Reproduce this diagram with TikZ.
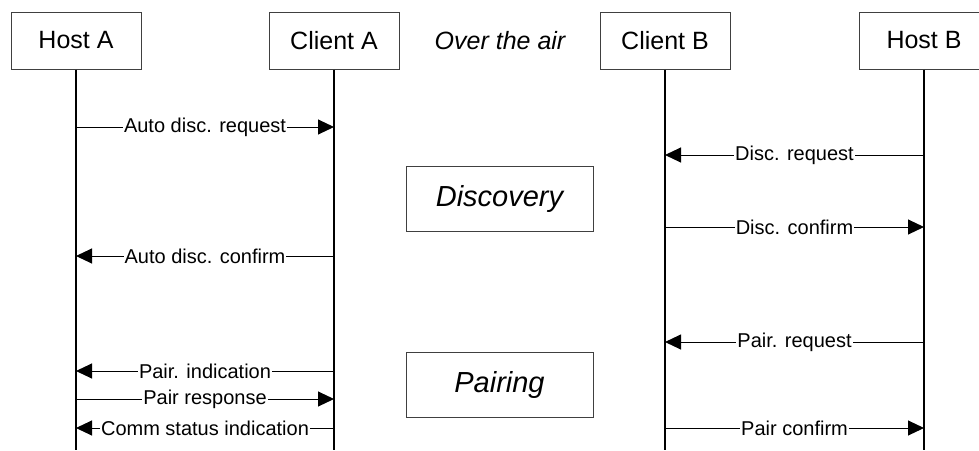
\documentclass[tikz,border=0pt]{standalone}
\usepackage{fontspec}
\setmainfont{Liberation Sans}
\usetikzlibrary{arrows.meta,positioning}

\begin{document}
\begin{tikzpicture}[x=1pt, y=-1pt,
    actor/.style={rectangle, draw=black!75, line width=1pt, minimum width=130pt, minimum height=57pt, font=\fontsize{25}{30}\selectfont},
    phase/.style={rectangle, draw=black!75, line width=1pt, minimum width=187pt, minimum height=65pt, font=\fontsize{29}{34}\selectfont\itshape},
    life/.style={line width=1.6pt},
    msg/.style={-{Triangle[length=16pt,width=15pt]}, line width=1pt},
    lbl/.style={fill=white, inner sep=1pt, font=\fontsize{20}{24}\selectfont}
]
    \clip (0,0) rectangle (979,450);

    % actors
    \node[actor] (hostA) at (76,40.5) {Host A};
    \node[actor] (clientA) at (334,40.5) {Client A};
    \node[actor] (clientB) at (665,40.5) {Client B};
    \node[actor] (hostB) at (924,40.5) {Host B};
    \node[font=\fontsize{25}{30}\selectfont\itshape] (air) at (500,41) {Over the air};

    % lifelines
    \coordinate (hostAend) at (76,450);
    \coordinate (clientAend) at (334,450);
    \coordinate (clientBend) at (665,450);
    \coordinate (hostBend) at (924,450);
    \draw[life] (hostA.south) -- (hostAend);
    \draw[life] (clientA.south) -- (clientAend);
    \draw[life] (clientB.south) -- (clientBend);
    \draw[life] (hostB.south) -- (hostBend);

    % phases
    \node[phase] (discovery) at (499.5,198.5) {Discovery};
    \node[phase] (pairing) at (499.5,384.5) {Pairing};

    % message points
    \coordinate (hA1) at (76,127);  \coordinate (cA1) at (334,127);
    \coordinate (cB2) at (665,155); \coordinate (hB2) at (924,155);
    \coordinate (cB3) at (665,227); \coordinate (hB3) at (924,227);
    \coordinate (hA4) at (76,256);  \coordinate (cA4) at (334,256);
    \coordinate (cB5) at (665,342); \coordinate (hB5) at (924,342);
    \coordinate (hA6) at (76,371);  \coordinate (cA6) at (334,371);
    \coordinate (hA7) at (76,399);  \coordinate (cA7) at (334,399);
    \coordinate (hA8) at (76,428);  \coordinate (cA8) at (334,428);
    \coordinate (cB9) at (665,428); \coordinate (hB9) at (924,428);

    % messages
    \draw[msg] (hA1) -- node[lbl] {Auto disc. request} (cA1);
    \draw[msg] (hB2) -- node[lbl] {Disc. request} (cB2);
    \draw[msg] (cB3) -- node[lbl] {Disc. confirm} (hB3);
    \draw[msg] (cA4) -- node[lbl] {Auto disc. confirm} (hA4);
    \draw[msg] (hB5) -- node[lbl] {Pair. request} (cB5);
    \draw[msg] (cA6) -- node[lbl] {Pair. indication} (hA6);
    \draw[msg] (hA7) -- node[lbl] {Pair response} (cA7);
    \draw[msg] (cA8) -- node[lbl] {Comm status indication} (hA8);
    \draw[msg] (cB9) -- node[lbl] {Pair confirm} (hB9);
\end{tikzpicture}
\end{document}
